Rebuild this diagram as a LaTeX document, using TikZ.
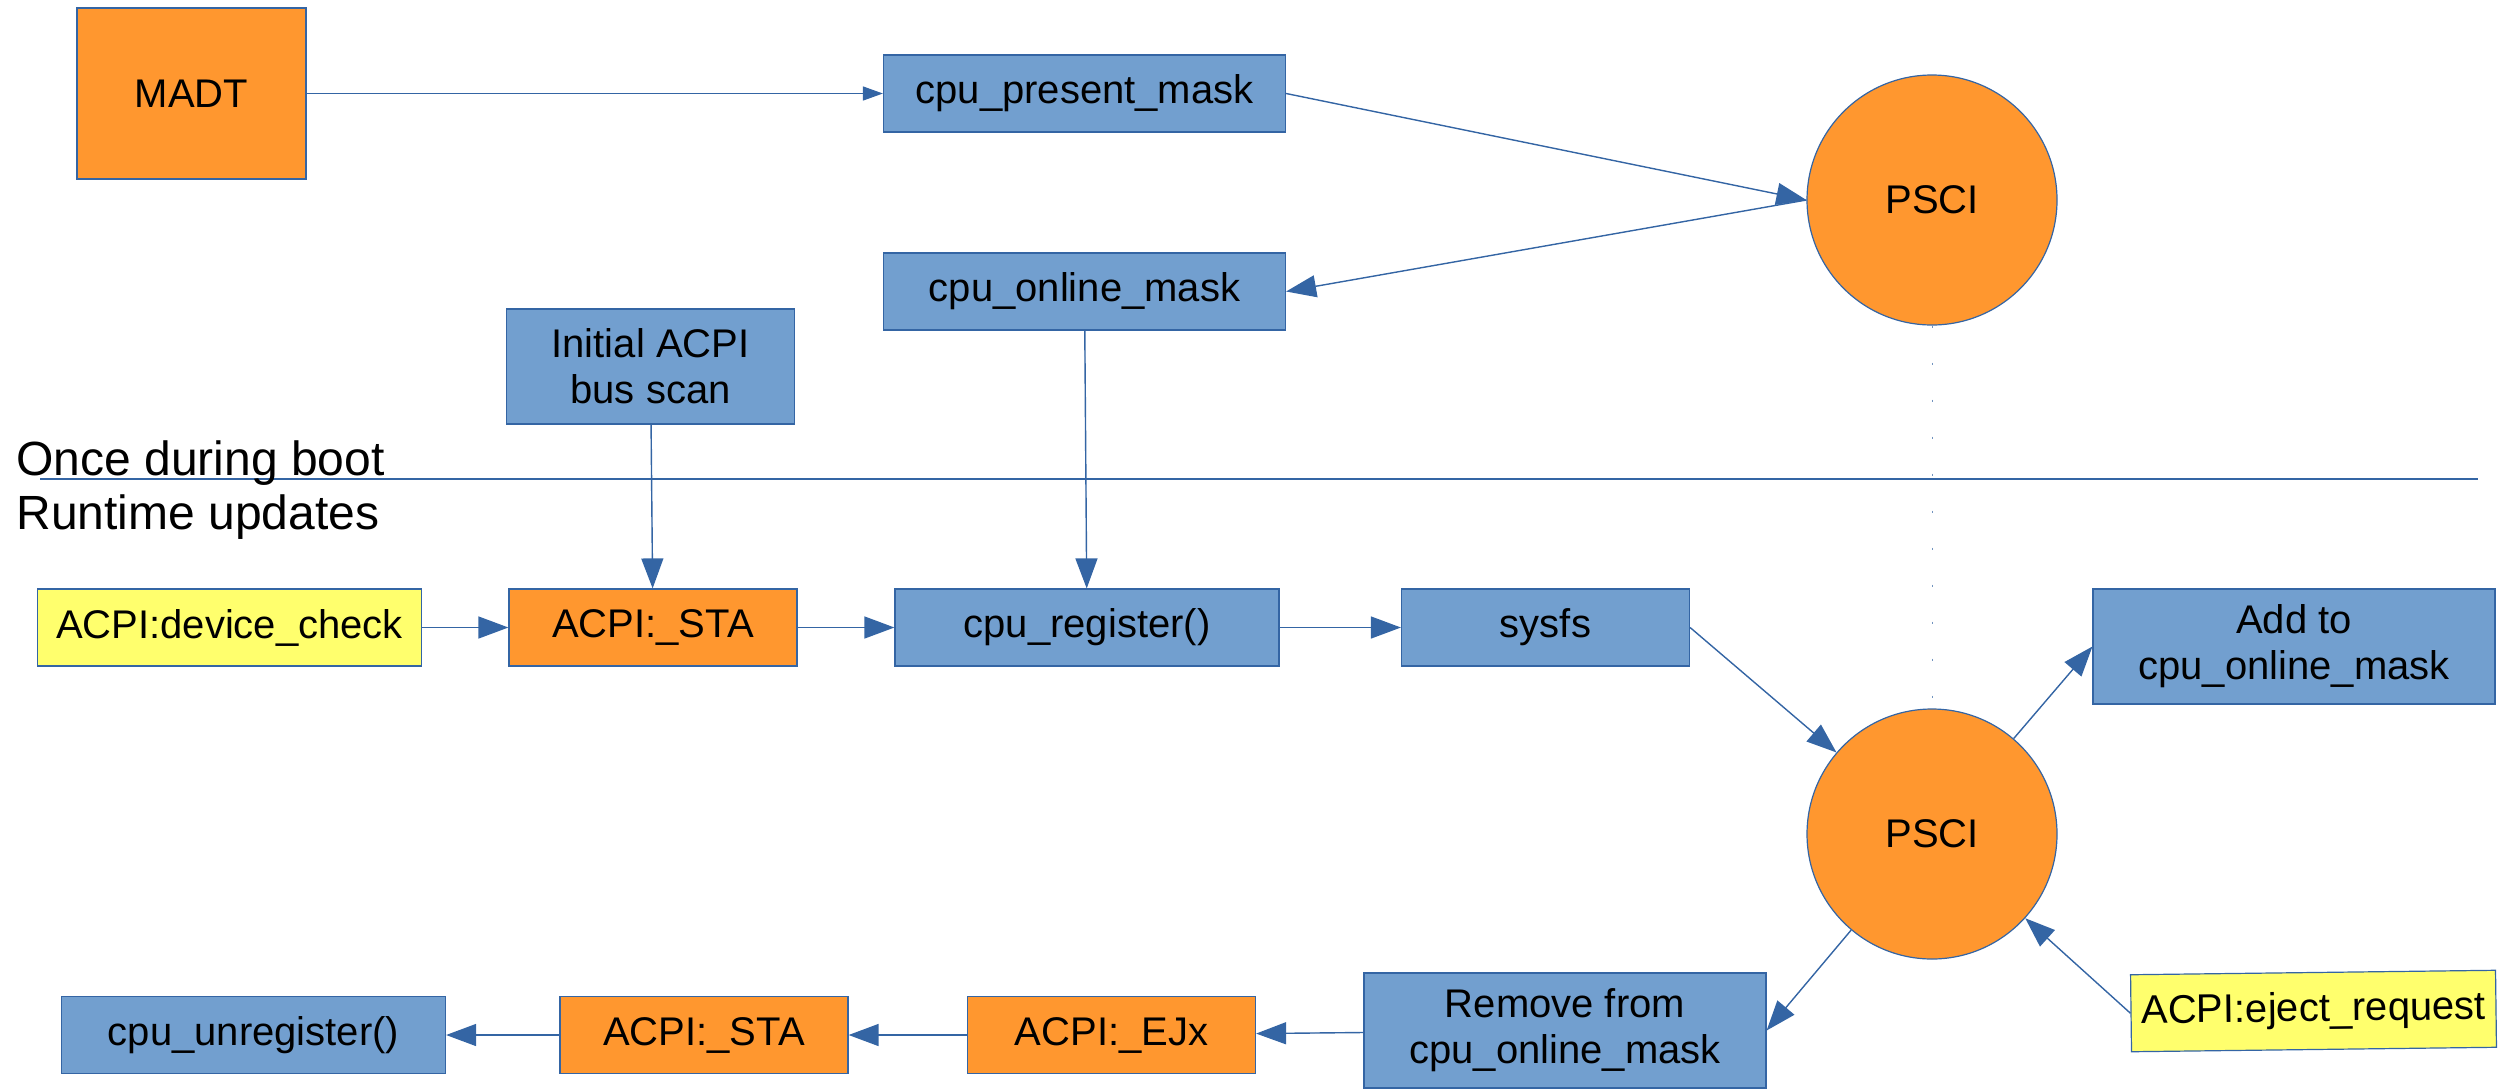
\documentclass[tikz,border=0pt]{standalone}
\usepackage{fontspec}
\setmainfont{Liberation Sans}
\usepackage{tikz}
\usetikzlibrary{arrows.meta}
\definecolor{boxblue}{HTML}{729FCF}
\definecolor{edgeblue}{HTML}{3465A4}
\definecolor{boxorange}{HTML}{FF972F}
\definecolor{boxyellow}{HTML}{FFFF6D}

\begin{document}
\begin{tikzpicture}[
  x=0.5pt, y=-0.5pt,
  box/.style={draw=edgeblue, line width=0.6pt, align=center, inner sep=0pt, minimum height=38.5pt, font=\fontsize{20}{23}\selectfont},
  bluebox/.style={box, fill=boxblue},
  orangebox/.style={box, fill=boxorange},
  yellowbox/.style={box, fill=boxyellow},
  short/.style={minimum width=144pt},
  long/.style={minimum width=192pt},
  wider/.style={minimum width=201pt},
  tall/.style={minimum height=57.5pt},
  psci/.style={circle, draw=edgeblue, line width=0.6pt, fill=boxorange, minimum size=125pt, inner sep=0pt, font=\fontsize{20}{23}\selectfont},
  flow/.style={-{Triangle[length=15pt, width=11pt]}, draw=edgeblue, fill=edgeblue, line width=0.7pt},
  thinflow/.style={-{Triangle[length=10pt, width=7pt]}, draw=edgeblue, fill=edgeblue, line width=0.7pt},
  phase/.style={anchor=base west, inner sep=0pt, font=\fontsize{24}{28}\selectfont}
]
\useasboundingbox (0,0) rectangle (2510,1088);

% boot time
\node[orangebox, minimum width=114.5pt, minimum height=85.5pt] (madt) at (191.5,93.5) {MADT};
\node[bluebox, wider] (present) at (1084.5,93.5) {cpu\_present\_mask};
\node[psci] (psci) at (1932,200) {PSCI};
\node[bluebox, wider] (online) at (1084.5,291.5) {cpu\_online\_mask};
\node[bluebox, short, tall] (scan) at (650.5,366.5) {Initial ACPI\\bus scan};

% phase separator
\coordinate (sepL) at (40,479);
\coordinate (sepR) at (2478,479);
\draw[edgeblue, line width=0.7pt] (sepL) -- (sepR);
\node[phase] (boot) at (16,475) {Once during boot};
\node[phase] (runtime) at (16,529) {Runtime updates};

% runtime: hot add
\node[yellowbox, long] (check) at (229.5,627.5) {ACPI:device\_check};
\node[orangebox, short] (sta) at (653,627.5) {ACPI:\_STA};
\node[bluebox, long] (register) at (1087,627.5) {cpu\_register()};
\node[bluebox, short] (sysfs) at (1545.5,627.5) {sysfs};
\node[bluebox, wider, tall] (add) at (2294,646.5) {Add to\\cpu\_online\_mask};
\node[psci] (psci2) at (1932,834) {PSCI};

% runtime: hot remove
\node[yellowbox, minimum width=182.5pt, rotate=0.7] (eject) at (2313.5,1011) {ACPI:eject\_request};
\node[bluebox, wider, tall] (remove) at (1565,1030.5) {Remove from\\cpu\_online\_mask};
\node[orangebox, short] (ejx) at (1111.5,1035) {ACPI:\_EJx};
\node[orangebox, short] (sta2) at (704,1035) {ACPI:\_STA};
\node[bluebox, long] (unregister) at (253.5,1035) {cpu\_unregister()};

\draw[edgeblue!70, line width=0.5pt, dash pattern=on 1pt off 17.5pt] (psci.south) -- (psci2.north);

\draw[thinflow] (madt) -- (present);
\draw[flow] (present.east) -- (psci.west);
\draw[flow] (psci.west) -- (online.east);
\draw[flow] (scan) -- (sta);
\draw[flow] (online) -- (register);
\draw[flow] (check) -- (sta);
\draw[flow] (sta) -- (register);
\draw[flow] (register) -- (sysfs);
\draw[flow] (sysfs.east) -- (psci2);
\draw[flow] (psci2) -- (add.west);
\draw[flow] (eject.west) -- (psci2);
\draw[flow] (psci2) -- (remove.east);
\draw[flow] (remove) -- (ejx);
\draw[flow] (ejx) -- (sta2);
\draw[flow] (sta2) -- (unregister);
\end{tikzpicture}
\end{document}
